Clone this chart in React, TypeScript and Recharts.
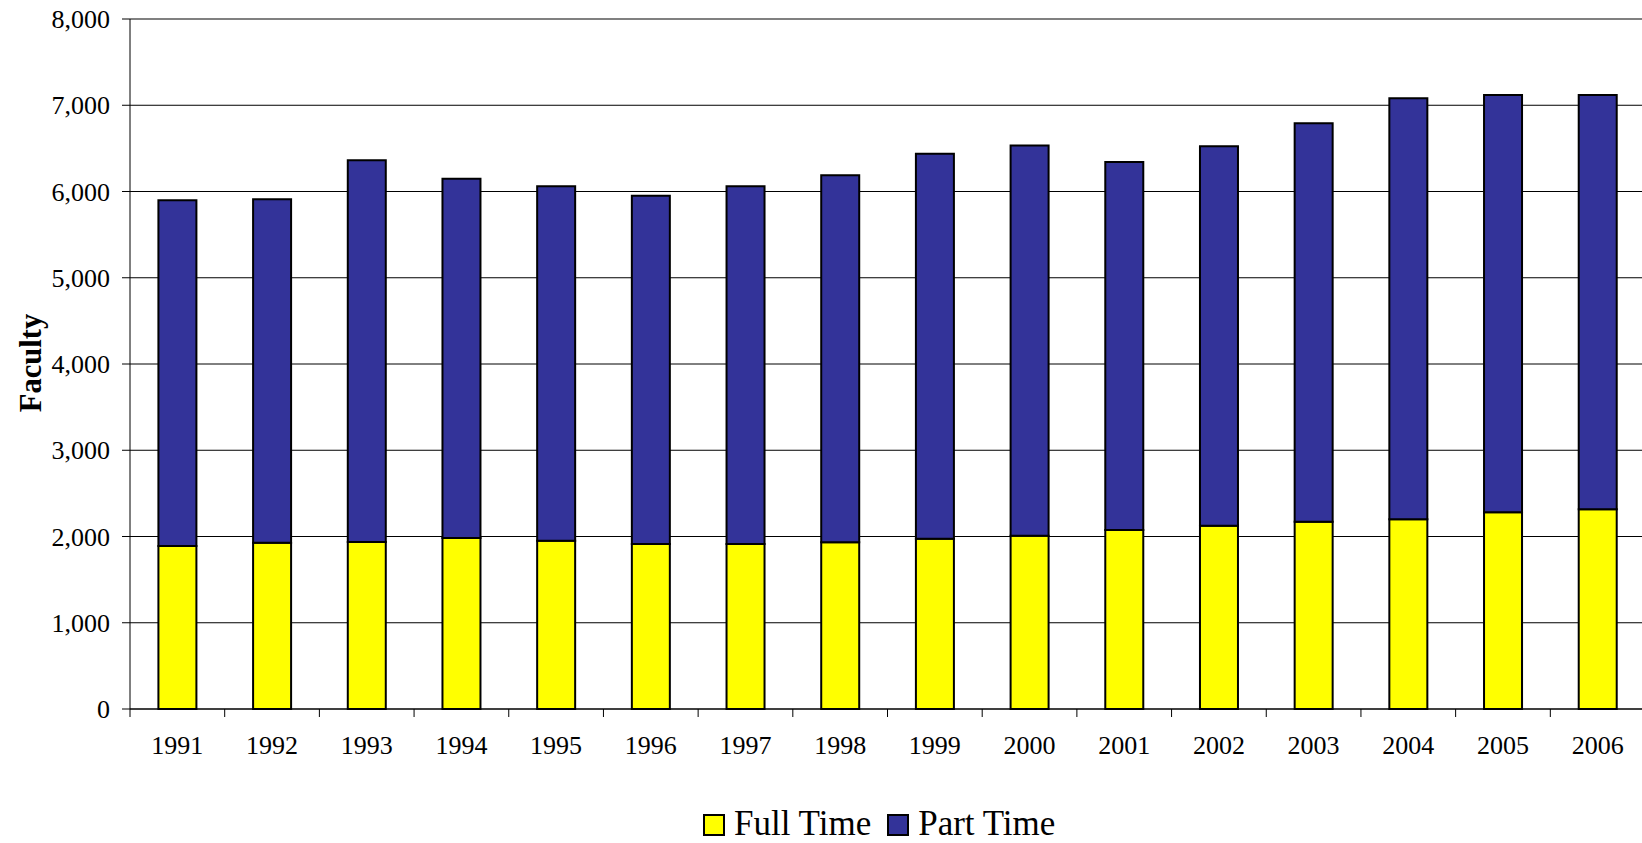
import React from 'react';
import { BarChart, Bar, XAxis, YAxis, CartesianGrid, Legend, ReferenceLine } from 'recharts';

const years = ['1991','1992','1993','1994','1995','1996','1997','1998','1999','2000','2001','2002','2003','2004','2005','2006'];
const fullTime = [1890, 1928, 1936, 1983, 1952, 1913, 1913, 1932, 1975, 2010, 2075, 2126, 2172, 2199, 2280, 2315];
const partTime = [4010, 3982, 4426, 4166, 4108, 4039, 4147, 4256, 4464, 4522, 4267, 4398, 4618, 4881, 4839, 4804];
const yTicks = [0, 1000, 2000, 3000, 4000, 5000, 6000, 7000, 8000];
const seriesNames = { full: 'Full Time', part: 'Part Time' };
const colors = { full: '#FFFF00', part: '#333399' };

const data = years.map((year, i) => ({ year, full: fullTime[i], part: partTime[i] }));

const FONT = '"Liberation Serif", "Times New Roman", Times, serif';

const YearTick = (props: any) => {
  const { x, y, payload, width } = props;
  const half = (width ? width : 1515) / years.length / 2;
  return (
    <g>
      <line x1={x - half} y1={y} x2={x - half} y2={y + 8} stroke="#000" strokeWidth={1} />
      <text x={x} y={y + 45} textAnchor="middle" fontFamily={FONT} fontSize={26} fill="#000">
        {payload.value}
      </text>
    </g>
  );
};

const LegendContent = (props: any) => {
  const { payload } = props;
  return (
    <div
      style={{
        height: 60,
        boxSizing: 'border-box',
        paddingTop: 21,
        paddingLeft: 703,
        display: 'flex',
        alignItems: 'center',
        fontFamily: FONT,
      }}
    >
      {(payload || []).map((entry: any) => (
        <div key={entry.value} style={{ display: 'flex', alignItems: 'center', marginRight: 16 }}>
          <div
            style={{
              width: 22,
              height: 22,
              boxSizing: 'border-box',
              border: '2px solid #000',
              background: entry.color,
              marginRight: 9,
              position: 'relative',
              top: 1.5,
            }}
          />
          <span style={{ fontSize: 35, lineHeight: 1.0, color: '#000', whiteSpace: 'nowrap' }}>{entry.value}</span>
        </div>
      ))}
    </div>
  );
};

const FacultyLabel = () => (
  <text
    x={41}
    y={363}
    transform="rotate(-90, 41, 363)"
    textAnchor="middle"
    fontFamily={FONT}
    fontSize={30.5}
    fontWeight="bold"
    fill="#000"
  >
    Faculty
  </text>
);

export default function App() {
  return (
    <div style={{ position: 'absolute', left: 0, top: 0, width: 1642, height: 843, overflow: 'hidden', background: '#fff' }}>
      <BarChart
        width={1650}
        height={843}
        data={data}
        margin={{ top: 19, right: 5, bottom: 0, left: 0 }}
        barCategoryGap="30%"
      >
        <CartesianGrid vertical={false} stroke="#000" strokeWidth={1} />
        <XAxis
          dataKey="year"
          height={74}
          axisLine={{ stroke: '#000', strokeWidth: 1 }}
          tickLine={false}
          tickSize={0}
          tickMargin={0}
          interval={0}
          tick={<YearTick />}
        />
        <YAxis
          width={130}
          domain={[0, 8000]}
          ticks={yTicks}
          interval={0}
          axisLine={{ stroke: '#000', strokeWidth: 1 }}
          tickLine={{ stroke: '#000', strokeWidth: 1 }}
          tickSize={8}
          tickMargin={12}
          tick={{ fontFamily: FONT, fontSize: 26, fill: '#000' }}
          tickFormatter={(v: number) => v.toLocaleString('en-US')}
          label={<FacultyLabel />}
        />
        <ReferenceLine y={8000} stroke="#808080" strokeWidth={2} />
        <Legend
          verticalAlign="bottom"
          wrapperStyle={{ left: 0, width: 1642, bottom: 0 }}
          content={<LegendContent />}
        />
        <Bar dataKey="full" name={seriesNames.full} stackId="a" fill={colors.full} stroke="#000" strokeWidth={2} isAnimationActive={false} />
        <Bar dataKey="part" name={seriesNames.part} stackId="a" fill={colors.part} stroke="#000" strokeWidth={2} isAnimationActive={false} />
      </BarChart>
    </div>
  );
}
